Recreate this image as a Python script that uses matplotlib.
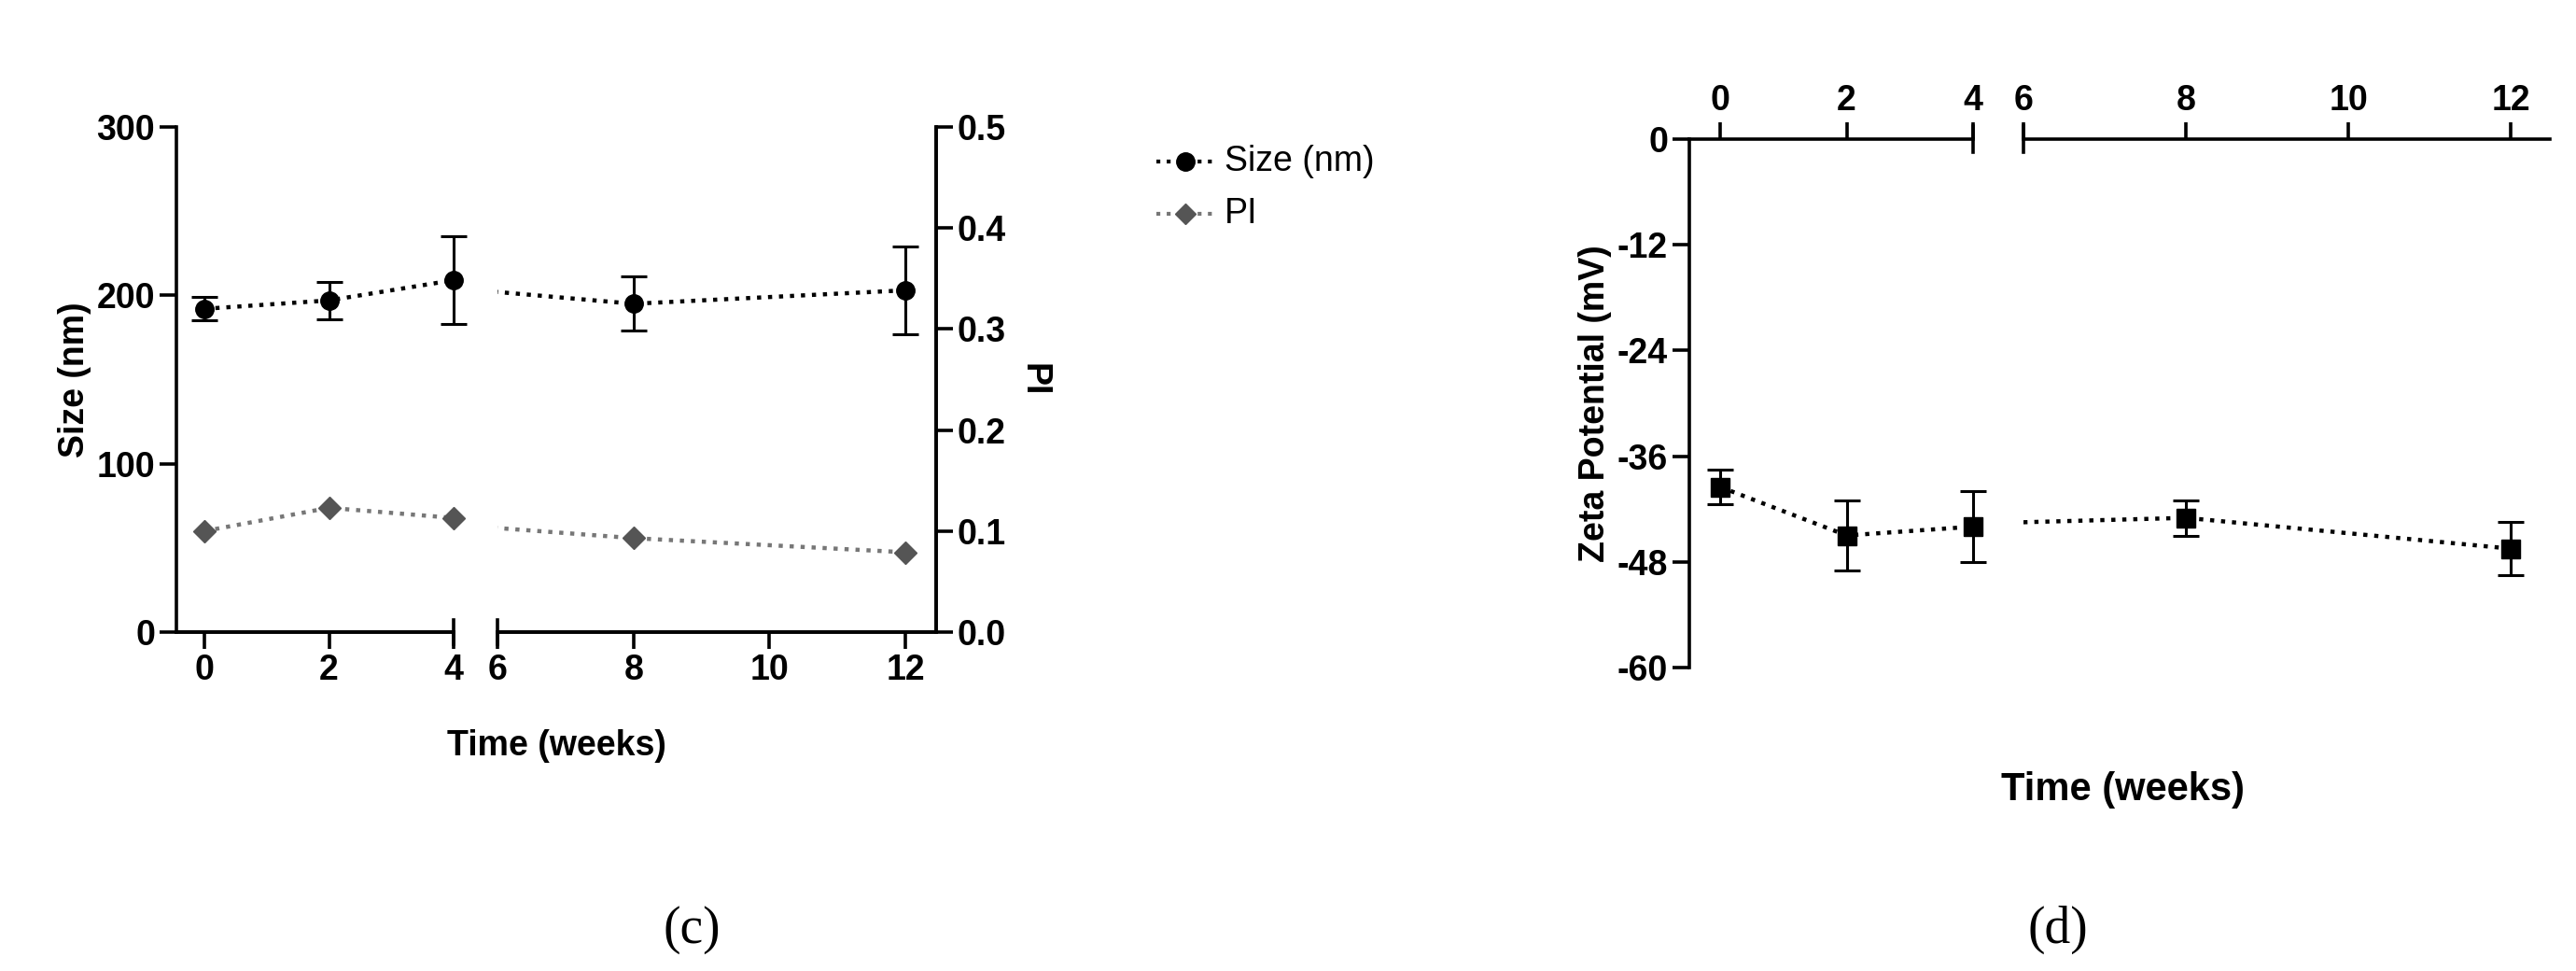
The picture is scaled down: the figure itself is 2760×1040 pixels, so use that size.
import matplotlib
matplotlib.use("Agg")
import matplotlib.pyplot as plt
import matplotlib.transforms as mtrans

plt.rcParams['font.family'] = ['Liberation Sans', 'DejaVu Sans']
plt.rcParams['font.weight'] = 'bold'

weeks = [0, 2, 4, 8, 12]
size_nm = [192, 197, 209, 195, 203]
size_err = [7, 11, 26, 16, 26]
pi_vals = [0.100, 0.123, 0.113, 0.093, 0.079]
zeta = [-39.5, -45.0, -44.0, -43.0, -46.5]
zeta_err = [2.0, 4.0, 4.0, 2.0, 3.0]
seg1_ticks = [0, 2, 4]
seg2_ticks = [6, 8, 10, 12]
size_ticks = [0, 100, 200, 300]
pi_ticks = [0.0, 0.1, 0.2, 0.3, 0.4, 0.5]
zeta_ticks = [0, -12, -24, -36, -48, -60]

W, H = 2760, 1040
fig = plt.figure(figsize=(W/100, H/100), dpi=100)
LW = 2.6
FS = 27

def ax_px(x0, x1, y0, y1):
    return fig.add_axes([x0/W, 1-y1/H, (x1-x0)/W, (y1-y0)/H])

def style(ax):
    for s in ax.spines.values():
        s.set_linewidth(LW)
    ax.tick_params(width=LW, length=13, labelsize=FS)
    for lab in ax.get_xticklabels() + ax.get_yticklabels():
        lab.set_fontweight('bold')

def cap(ax, x, top=False):
    tr = mtrans.blended_transform_factory(ax.transData, ax.transAxes)
    y = 1 if top else 0
    ax.plot([x, x], [y - 0.024, y + 0.024], transform=tr, color='black', lw=LW, clip_on=False)

def pts(xs, ys, es, lo, hi):
    sel = [i for i, x in enumerate(xs) if lo <= x <= hi]
    return [xs[i] for i in sel], [ys[i] for i in sel], ([es[i] for i in sel] if es else None)

# ---- panel (c)
a1 = ax_px(189, 486, 136, 677)
a2 = ax_px(533, 1003, 136, 677)
for a, xl, xt in [(a1, (-0.45, 4), seg1_ticks), (a2, (6, 12.45), seg2_ticks)]:
    a.plot(weeks, size_nm, ':', color='black', lw=3.2)
    px, py, pe = pts(weeks, size_nm, size_err, *xl)
    eb = a.errorbar(px, py, yerr=pe, fmt='o', color='black', ms=14,
                    capsize=10, elinewidth=2.2, capthick=2.2, zorder=3)
    for art in eb.get_children():
        art.set_clip_on(False)
    a.set_xlim(*xl); a.set_ylim(0, 300)
    a.set_xticks(xt)
    a.spines['top'].set_visible(False)
    a.set_facecolor('none')
    t = a.twinx()
    t.set_xlim(*xl); t.set_ylim(0, 0.5)
    t.plot(weeks, pi_vals, ':', color='#777777', lw=3.2)
    qx, qy, _ = pts(weeks, pi_vals, None, *xl)
    t.plot(qx, qy, 'D', color='#555555', ms=12, ls='none', clip_on=False)
    t.spines['top'].set_visible(False); t.spines['left'].set_visible(False)
    if a is a1:
        t.spines['right'].set_visible(False)
        t.yaxis.set_visible(False)
    else:
        t.set_yticks(pi_ticks)
        t.set_yticklabels([f'{v:.1f}' for v in pi_ticks])
        t.set_ylabel('PI', fontsize=FS, fontweight='bold', rotation=270, labelpad=34)
    style(t)
    style(a)
a1.spines['right'].set_visible(False)
a2.spines['left'].set_visible(False)
a2.yaxis.set_visible(False)
a1.set_yticks(size_ticks)
a1.set_ylabel('Size (nm)', fontsize=FS, fontweight='bold')
style(a1)
cap(a1, 4); cap(a2, 6)
fig.text(596/W, 1-799/H, 'Time (weeks)', ha='center', va='center', fontsize=FS, fontweight='bold')

# legend
fig.lines.append(plt.Line2D([1239/W, 1300/W], [1-173/H]*2, ls=':', lw=3, color='black', transform=fig.transFigure))
fig.lines.append(plt.Line2D([1270/W], [1-173/H], marker='o', ms=14, color='black', transform=fig.transFigure))
fig.lines.append(plt.Line2D([1239/W, 1300/W], [1-229/H]*2, ls=':', lw=3, color='#777777', transform=fig.transFigure))
fig.lines.append(plt.Line2D([1270/W], [1-229/H], marker='D', ms=11, color='#555555', transform=fig.transFigure))
fig.text(1312/W, 1-173/H, 'Size (nm)', va='center', fontsize=FS, fontweight='normal')
fig.text(1312/W, 1-229/H, 'PI', va='center', fontsize=FS, fontweight='normal')

# ---- panel (d)
b1 = ax_px(1810, 2114, 149, 715)
b2 = ax_px(2168, 2732, 149, 715)
for b, xl, xt in [(b1, (-0.49, 4), seg1_ticks), (b2, (6, 12.48), seg2_ticks)]:
    b.plot(weeks, zeta, ':', color='black', lw=3.2)
    px, py, pe = pts(weeks, zeta, zeta_err, *xl)
    eb = b.errorbar(px, py, yerr=pe, fmt='s', color='black', ms=15,
                    capsize=10, elinewidth=2.2, capthick=2.2, zorder=3)
    for art in eb.get_children():
        art.set_clip_on(False)
    b.set_xlim(*xl); b.set_ylim(-60, 0)
    b.set_xticks(xt)
    b.xaxis.tick_top()
    b.spines['bottom'].set_visible(False); b.spines['right'].set_visible(False)
    b.set_facecolor('none')
    style(b)
b2.spines['left'].set_visible(False)
b2.yaxis.set_visible(False)
b1.set_yticks(zeta_ticks)
b1.set_yticklabels([str(v).replace('-', '-') for v in zeta_ticks])
b1.set_ylabel('Zeta Potential (mV)', fontsize=FS, fontweight='bold')
style(b1)
cap(b1, 4, top=True); cap(b2, 6, top=True)
fig.text(2275/W, 1-846/H, 'Time (weeks)', ha='center', va='center', fontsize=FS+3, fontweight='bold')

fig.text(741/W, 1-996/H, '(c)', ha='center', va='center', fontsize=40, family='Liberation Serif', fontweight='normal')
fig.text(2205/W, 1-996/H, '(d)', ha='center', va='center', fontsize=40, family='Liberation Serif', fontweight='normal')

fig.savefig('out.png', dpi=100)
